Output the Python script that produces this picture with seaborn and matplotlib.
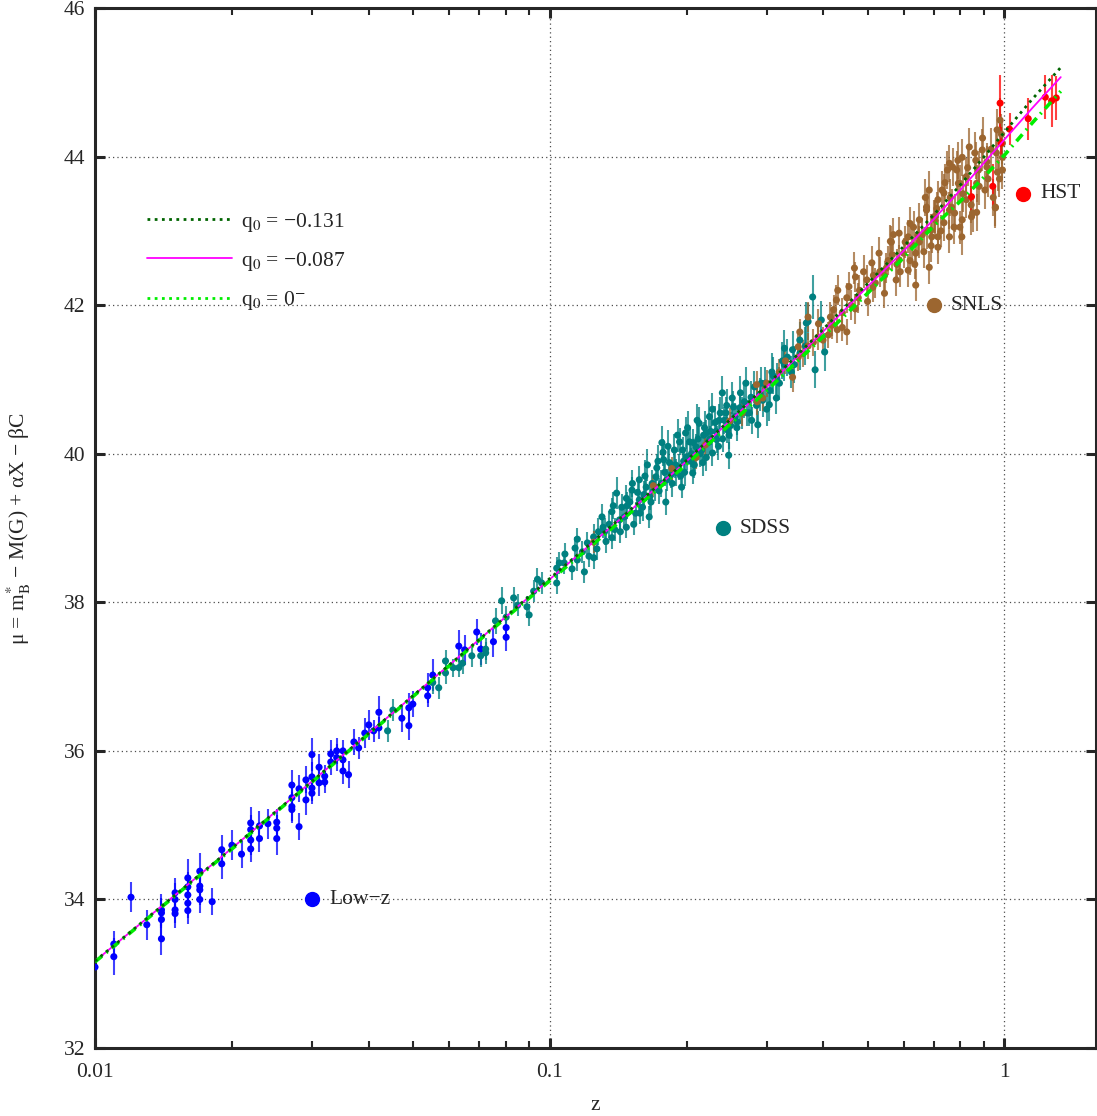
import matplotlib

matplotlib.use("Agg")
import matplotlib.pyplot as plt
from matplotlib.lines import Line2D
from matplotlib.ticker import FixedLocator, NullFormatter
import numpy as np
import pandas as pd
import seaborn as sns

sns.set_style("ticks")
plt.rcParams["font.family"] = ["Liberation Serif", "DejaVu Serif"]
plt.rcParams["mathtext.fontset"] = "stix"

FS = 15.5

# --- Low-z sample (blue)
lowz_z = [0.0100, 0.0110, 0.0110, 0.0120, 0.0130, 0.0140, 0.0140, 0.0140, 0.0140, 0.0150,
          0.0150, 0.0150, 0.0150, 0.0160, 0.0160, 0.0160, 0.0160, 0.0160, 0.0170, 0.0170,
          0.0170, 0.0170, 0.0181, 0.0190, 0.0190, 0.0200, 0.0210, 0.0220, 0.0220, 0.0220,
          0.0220, 0.0230, 0.0230, 0.0240, 0.0251, 0.0251, 0.0251, 0.0271, 0.0271, 0.0271,
          0.0271, 0.0281, 0.0281, 0.0291, 0.0291, 0.0300, 0.0300, 0.0300, 0.0300, 0.0311,
          0.0311, 0.0320, 0.0320, 0.0330, 0.0330, 0.0340, 0.0340, 0.0351, 0.0351, 0.0351,
          0.0361, 0.0371, 0.0380, 0.0392, 0.0400, 0.0410, 0.0421, 0.0421, 0.0473, 0.0490,
          0.0490, 0.0500, 0.0539, 0.0539, 0.0553, 0.0631, 0.0650, 0.0691, 0.0705, 0.0752,
          0.0802, 0.0802]
lowz_mu = [33.09, 33.40, 33.23, 34.03, 33.66, 33.86, 33.73, 33.47, 33.82, 34.09,
           34.00, 33.86, 33.81, 34.29, 34.17, 34.06, 33.95, 33.85, 34.38, 34.18,
           34.13, 34.00, 33.97, 34.67, 34.48, 34.73, 34.61, 35.03, 34.94, 34.80,
           34.68, 34.99, 34.82, 35.02, 35.04, 34.96, 34.82, 35.54, 35.37, 35.25,
           35.21, 35.49, 34.98, 35.61, 35.34, 35.95, 35.65, 35.50, 35.43, 35.78,
           35.57, 35.66, 35.58, 35.96, 35.85, 36.00, 35.91, 36.00, 35.88, 35.73,
           35.68, 36.12, 36.04, 36.24, 36.35, 36.27, 36.52, 36.31, 36.44, 36.58,
           36.34, 36.63, 36.85, 36.74, 37.02, 37.41, 37.36, 37.60, 37.37, 37.47,
           37.53, 37.66]
lowz_err = [0.08, 0.18, 0.25, 0.20, 0.20, 0.22, 0.25, 0.22, 0.20, 0.20,
            0.22, 0.18, 0.20, 0.25, 0.20, 0.22, 0.20, 0.18, 0.25, 0.22,
            0.20, 0.18, 0.18, 0.20, 0.20, 0.20, 0.18, 0.22, 0.20, 0.20,
            0.18, 0.20, 0.18, 0.20, 0.18, 0.18, 0.22, 0.20, 0.18, 0.20,
            0.18, 0.18, 0.18, 0.18, 0.20, 0.22, 0.20, 0.18, 0.15, 0.18,
            0.18, 0.15, 0.15, 0.18, 0.18, 0.18, 0.18, 0.15, 0.15, 0.18,
            0.18, 0.18, 0.15, 0.20, 0.20, 0.15, 0.22, 0.15, 0.18, 0.20,
            0.20, 0.18, 0.20, 0.15, 0.22, 0.22, 0.20, 0.18, 0.22, 0.20,
            0.18, 0.18]

# --- SDSS sample (teal)
sdss_z = [0.0440, 0.0452, 0.0553, 0.0570, 0.0590, 0.0590, 0.0613, 0.0631, 0.0643, 0.0674,
          0.0705, 0.0723, 0.0723, 0.0760, 0.0784, 0.0802, 0.0833, 0.0850, 0.0891, 0.0901,
          0.0922, 0.0940, 0.0960, 0.1036, 0.1036, 0.1050, 0.1076, 0.1080, 0.1120, 0.1137,
          0.1150, 0.1180, 0.1192, 0.1210, 0.1220, 0.1249, 0.1270, 0.1280, 0.1303, 0.1310,
          0.1330, 0.1350, 0.1370, 0.1370, 0.1390, 0.1403, 0.1424, 0.1440, 0.1460, 0.1474,
          0.1474, 0.1500, 0.1517, 0.1530, 0.1545, 0.1560, 0.1574, 0.1574, 0.1600, 0.1620,
          0.1630, 0.1655, 0.1660, 0.1680, 0.1712, 0.1720, 0.1740, 0.1765, 0.1775, 0.1780,
          0.1800, 0.1810, 0.1834, 0.1850, 0.1880, 0.1900, 0.1920, 0.1930, 0.1950, 0.1970,
          0.1990, 0.2000, 0.2030, 0.2050, 0.2063, 0.2080, 0.2100, 0.2120, 0.2132, 0.2160,
          0.2170, 0.2190, 0.2210, 0.2230, 0.2245, 0.2260, 0.2280, 0.2310, 0.2330, 0.2350,
          0.2372, 0.2397, 0.2420, 0.2450, 0.2460, 0.2475, 0.2500, 0.2536, 0.2560, 0.2587,
          0.2620, 0.2627, 0.2680, 0.2720, 0.2750, 0.2772, 0.2820, 0.2868, 0.2900, 0.2940,
          0.2980, 0.3040, 0.3050, 0.3100, 0.3151, 0.3200, 0.3283, 0.3280, 0.3331, 0.3400,
          0.3420, 0.3548, 0.3550, 0.3667, 0.3700, 0.3786, 0.3834, 0.3956, 0.4024,
          0.1150, 0.1250, 0.1320, 0.1380, 0.1430, 0.1480, 0.1520, 0.1580, 0.1610, 0.1640,
          0.1670, 0.1700, 0.1730, 0.1760, 0.1790, 0.1820, 0.1860, 0.1890, 0.1910, 0.1940,
          0.1960, 0.1980, 0.2010, 0.2040, 0.2070, 0.2090, 0.2110, 0.2140, 0.2180, 0.2210,
          0.2250, 0.2280, 0.2320, 0.2360, 0.2400, 0.2440, 0.2480, 0.2520, 0.2580, 0.2650,
          0.2700, 0.2780, 0.2850, 0.2920, 0.3000, 0.3080, 0.3160, 0.3250, 0.3450, 0.3650]
sdss_mu = [36.27, 36.55, 36.92, 36.85, 37.21, 37.05, 37.12, 37.12, 37.18, 37.28,
           37.28, 37.37, 37.32, 37.75, 38.02, 37.80, 38.06, 37.96, 37.94, 37.83,
           38.15, 38.31, 38.26, 38.46, 38.26, 38.53, 38.53, 38.65, 38.45, 38.73,
           38.57, 38.68, 38.41, 38.80, 38.62, 38.88, 38.72, 38.95, 39.15, 39.01,
           38.82, 39.05, 39.22, 38.87, 38.98, 39.47, 39.11, 39.28, 39.15, 39.40,
           39.01, 39.35, 39.51, 39.05, 39.20, 39.48, 39.65, 39.38, 39.28, 39.70,
           39.55, 39.15, 39.42, 39.60, 39.69, 39.81, 39.50, 40.15, 40.02, 39.92,
           39.35, 39.65, 39.88, 39.72, 40.05, 39.75, 39.82, 40.16, 39.55, 39.90,
           40.28, 39.96, 40.16, 40.00, 39.74, 39.85, 40.09, 40.20, 40.41, 40.05,
           39.88, 40.35, 40.28, 40.15, 40.50, 40.30, 40.01, 40.42, 40.19, 40.10,
           40.55, 40.82, 40.45, 40.65, 40.32, 39.98, 40.38, 40.63, 40.50, 40.43,
           40.62, 40.82, 40.70, 40.55, 40.55, 40.76, 40.90, 40.39, 40.80, 40.72,
           40.95, 40.66, 40.85, 41.05, 40.75, 40.95, 41.42, 41.20, 41.30, 41.10,
           41.40, 41.53, 41.35, 41.76, 41.78, 42.11, 41.13, 41.80, 41.37,
           38.85, 38.60, 38.95, 39.30, 38.95, 39.30, 39.60, 39.20, 39.45, 39.85,
           39.35, 39.55, 39.90, 39.60, 39.75, 40.10, 39.60, 39.85, 40.25, 39.70,
           40.05, 39.75, 40.35, 39.90, 40.15, 39.95, 40.45, 40.00, 40.25, 39.95,
           40.20, 40.60, 40.30, 40.45, 40.20, 40.55, 40.25, 40.75, 40.35, 40.55,
           40.95, 40.45, 40.65, 40.95, 40.60, 41.10, 41.00, 41.25, 41.20, 41.45]
sdss_err = [0.15, 0.15, 0.15, 0.15, 0.15, 0.15, 0.12, 0.12, 0.15, 0.15,
            0.15, 0.15, 0.15, 0.18, 0.18, 0.15, 0.15, 0.15, 0.15, 0.15,
            0.15, 0.15, 0.15, 0.15, 0.15, 0.15, 0.15, 0.15, 0.15, 0.15,
            0.15, 0.15, 0.15, 0.15, 0.15, 0.18, 0.15, 0.18, 0.18, 0.15,
            0.15, 0.18, 0.18, 0.15, 0.15, 0.22, 0.15, 0.18, 0.15, 0.18,
            0.15, 0.18, 0.18, 0.15, 0.15, 0.18, 0.18, 0.15, 0.18, 0.22,
            0.18, 0.15, 0.18, 0.18, 0.18, 0.18, 0.18, 0.22, 0.18, 0.22,
            0.18, 0.15, 0.18, 0.18, 0.22, 0.18, 0.18, 0.18, 0.15, 0.18,
            0.22, 0.18, 0.18, 0.18, 0.15, 0.18, 0.18, 0.18, 0.22, 0.18,
            0.18, 0.22, 0.18, 0.18, 0.22, 0.18, 0.18, 0.22, 0.18, 0.18,
            0.22, 0.22, 0.18, 0.22, 0.18, 0.18, 0.18, 0.22, 0.18, 0.18,
            0.22, 0.22, 0.22, 0.18, 0.18, 0.22, 0.22, 0.18, 0.22, 0.22,
            0.22, 0.22, 0.22, 0.25, 0.22, 0.22, 0.25, 0.22, 0.25, 0.22,
            0.25, 0.25, 0.22, 0.28, 0.25, 0.30, 0.25, 0.25, 0.25,
            0.15, 0.15, 0.18, 0.18, 0.15, 0.18, 0.18, 0.15, 0.18, 0.22,
            0.18, 0.18, 0.22, 0.18, 0.18, 0.22, 0.18, 0.18, 0.22, 0.18,
            0.18, 0.18, 0.22, 0.18, 0.18, 0.18, 0.22, 0.18, 0.18, 0.18,
            0.18, 0.22, 0.18, 0.22, 0.18, 0.22, 0.18, 0.22, 0.18, 0.22,
            0.22, 0.18, 0.22, 0.22, 0.22, 0.25, 0.22, 0.25, 0.25, 0.25]

# --- SNLS sample (brown)
snls_z = [0.1249, 0.1690, 0.1856, 0.2100, 0.2200, 0.2488, 0.2650, 0.2850, 0.2860, 0.2940,
          0.3000, 0.3200, 0.3420, 0.3520, 0.3520, 0.3548, 0.3600, 0.3700, 0.3800, 0.3892,
          0.3990, 0.4143, 0.4170, 0.4180, 0.4210, 0.4271, 0.4290, 0.4400, 0.4501, 0.4501,
          0.4600, 0.4679, 0.4703, 0.4770, 0.4800, 0.4982, 0.5110, 0.5136, 0.5200, 0.5318,
          0.5448, 0.5500, 0.5613, 0.5642, 0.5670, 0.5780, 0.5800, 0.5867, 0.5867, 0.6000,
          0.6143, 0.6143, 0.6200, 0.6265, 0.6310, 0.6380, 0.6381, 0.6450, 0.6500, 0.6600,
          0.6650, 0.6740, 0.6740, 0.6740, 0.6833, 0.6833, 0.6880, 0.6920, 0.7000, 0.7043,
          0.7043, 0.7140, 0.7140, 0.7140, 0.7290, 0.7362, 0.7362, 0.7494, 0.7570, 0.7570,
          0.7570, 0.7650, 0.7690, 0.7770, 0.7850, 0.7920, 0.7980, 0.7980, 0.8060, 0.8075,
          0.8075, 0.8245, 0.8245, 0.8370, 0.8463, 0.8510, 0.8605, 0.8687, 0.8687, 0.8770,
          0.8940, 0.9060, 0.9150, 0.9150, 0.9552, 0.9552, 0.9635, 0.9655, 0.9784, 0.9899,
          0.9899, 0.9899,
          0.3300, 0.3700, 0.3900, 0.4100, 0.4300, 0.4400, 0.4550, 0.4700, 0.4900, 0.5000,
          0.5150, 0.5300, 0.5450, 0.5550, 0.5700, 0.5900, 0.6050, 0.6200, 0.6350, 0.6500,
          0.6700, 0.6900, 0.7100, 0.7250, 0.7400, 0.7600, 0.7750, 0.7900, 0.8100, 0.8300,
          0.8450, 0.8650, 0.8800, 0.8950, 0.9200, 0.9350, 0.9450, 0.9600, 0.9750, 0.9850]
snls_mu = [38.81, 39.57, 39.80, 39.95, 40.12, 40.44, 40.55, 40.93, 40.70, 40.75,
           40.95, 41.10, 41.03, 41.44, 41.30, 41.64, 41.35, 41.84, 41.50, 41.57,
           41.53, 41.84, 41.76, 41.73, 41.94, 42.07, 41.67, 41.90, 41.64, 42.10,
           42.00, 42.50, 42.38, 42.10, 42.20, 42.34, 42.57, 42.24, 42.30, 42.45,
           42.16, 42.50, 42.86, 42.85, 42.68, 42.34, 42.55, 42.61, 42.97, 42.70,
           42.47, 42.92, 42.60, 42.81, 43.05, 42.70, 42.27, 42.94, 43.15, 42.95,
           42.72, 43.01, 43.28, 43.32, 42.51, 43.55, 43.01, 42.92, 43.19, 43.15,
           43.19, 42.78, 43.42, 42.92, 43.55, 43.11, 43.51, 43.82, 42.92, 43.91,
           43.28, 43.32, 43.86, 43.24, 43.82, 43.64, 43.05, 43.64, 42.92, 43.99,
           43.15, 43.42, 43.73, 44.13, 43.19, 43.24, 44.05, 43.25, 43.64, 43.82,
           44.09, 43.55, 43.86, 43.93, 43.32, 43.31, 44.36, 43.79, 44.49, 43.99,
           43.82, 44.18,
           41.25, 41.45, 41.75, 41.60, 42.20, 41.70, 42.25, 41.95, 42.45, 42.05,
           42.40, 42.70, 42.40, 42.60, 42.95, 42.45, 42.85, 43.10, 42.55, 42.85,
           43.45, 42.80, 43.30, 43.00, 43.65, 43.45, 43.05, 43.95, 43.50, 43.85,
           43.35, 43.95, 43.60, 44.25, 43.70, 44.10, 43.45, 44.05, 43.70, 44.30]
snls_err = [0.15, 0.15, 0.15, 0.15, 0.15, 0.18, 0.18, 0.18, 0.18, 0.18,
            0.18, 0.18, 0.20, 0.18, 0.18, 0.18, 0.18, 0.20, 0.18, 0.18,
            0.18, 0.20, 0.18, 0.18, 0.20, 0.20, 0.18, 0.20, 0.18, 0.20,
            0.20, 0.22, 0.20, 0.20, 0.20, 0.20, 0.22, 0.20, 0.20, 0.20,
            0.20, 0.20, 0.22, 0.22, 0.20, 0.22, 0.20, 0.20, 0.22, 0.20,
            0.22, 0.22, 0.20, 0.22, 0.22, 0.20, 0.22, 0.22, 0.22, 0.22,
            0.22, 0.25, 0.22, 0.22, 0.22, 0.25, 0.22, 0.22, 0.22, 0.25,
            0.22, 0.22, 0.25, 0.22, 0.25, 0.25, 0.25, 0.25, 0.22, 0.25,
            0.25, 0.25, 0.25, 0.25, 0.25, 0.25, 0.22, 0.25, 0.25, 0.25,
            0.25, 0.25, 0.25, 0.25, 0.25, 0.25, 0.28, 0.25, 0.25, 0.25,
            0.28, 0.25, 0.28, 0.25, 0.28, 0.25, 0.28, 0.25, 0.30, 0.28,
            0.25, 0.28,
            0.18, 0.18, 0.20, 0.18, 0.20, 0.18, 0.20, 0.20, 0.22, 0.20,
            0.20, 0.22, 0.20, 0.20, 0.22, 0.20, 0.22, 0.22, 0.20, 0.22,
            0.25, 0.22, 0.22, 0.22, 0.25, 0.25, 0.22, 0.25, 0.25, 0.25,
            0.25, 0.25, 0.25, 0.28, 0.25, 0.28, 0.25, 0.28, 0.25, 0.28]

# --- HST sample (red)
hst_z = [0.8463, 0.9427, 0.9784, 0.9834, 1.026, 1.128, 1.23, 1.27, 1.30]
hst_mu = [43.46, 43.60, 44.72, 44.18, 44.37, 44.51, 44.80, 44.75, 44.79]
hst_err = [0.22, 0.30, 0.38, 0.22, 0.22, 0.28, 0.30, 0.35, 0.30]

# --- model curves
curve_z = [0.01, 0.02, 0.03, 0.05, 0.07, 0.1, 0.15, 0.2, 0.3, 0.4, 0.5, 0.6, 0.7, 0.8, 0.9, 1.0, 1.15, 1.33]
mu_q131 = [33.17, 34.69, 35.59, 36.74, 37.50, 38.32, 39.24, 39.91, 40.92, 41.68, 42.29, 42.79, 43.22,
           43.62, 43.99, 44.33, 44.77, 45.20]
mu_q087 = [33.17, 34.69, 35.59, 36.74, 37.50, 38.31, 39.23, 39.90, 40.90, 41.65, 42.25, 42.73, 43.16,
           43.55, 43.91, 44.23, 44.65, 45.07]
mu_q0 = [33.16, 34.68, 35.58, 36.73, 37.49, 38.29, 39.20, 39.86, 40.85, 41.58, 42.16, 42.64, 43.07,
         43.40, 43.72, 44.02, 44.45, 44.88]

surveys = ["Low\u2212z", "SDSS", "SNLS", "HST"]
colors = ["#0000ff", "#008080", "#9c6630", "#ff0000"]
key_pos = [(0.03, 34.0), (0.24, 39.0), (0.70, 42.0), (1.10, 43.5)]

frames = []
for name, zs, ms, es in [(surveys[0], lowz_z, lowz_mu, lowz_err),
                         (surveys[1], sdss_z, sdss_mu, sdss_err),
                         (surveys[2], snls_z, snls_mu, snls_err),
                         (surveys[3], hst_z, hst_mu, hst_err)]:
    frames.append(pd.DataFrame({"z": zs, "mu": ms, "err": es, "survey": name}))
df = pd.concat(frames, ignore_index=True)

fig = plt.figure(figsize=(10.97, 11.16), dpi=100)
ax = fig.add_axes([0.0866, 0.0609, 0.9125, 0.9319])
ax.set_xscale("log")

for name, c in zip(surveys, colors):
    d = df[df["survey"] == name]
    ax.errorbar(d["z"], d["mu"], yerr=d["err"], fmt="none", ecolor=c, elinewidth=1.5,
                alpha=0.75, capsize=0, zorder=2)
sns.scatterplot(data=df, x="z", y="mu", hue="survey", palette=dict(zip(surveys, colors)),
                s=26, linewidth=0, legend=False, ax=ax, zorder=3)

# curves
ax.plot(curve_z, mu_q087, color="#ff00ff", lw=1.3, zorder=4)
ax.plot(curve_z, mu_q0, color="#00ee00", lw=2.6, linestyle=(0, (2.5, 1.5, 0.5, 1.5)), zorder=5)
ax.plot(curve_z, mu_q131, color="#006400", lw=2.0, linestyle=(0, (1, 1.6)), zorder=6)

# survey keys
for name, c, (kz, km) in zip(surveys, colors, key_pos):
    ax.plot(kz, km, "o", ms=10, color=c, zorder=7)
    ax.text(kz * 1.09, km, name, fontsize=FS, va="center", ha="left", zorder=7)

handles = [
    Line2D([], [], color="#006400", lw=2.0, linestyle=(0, (1, 1.6))),
    Line2D([], [], color="#ff00ff", lw=1.3),
    Line2D([], [], color="#00ee00", lw=2.0, linestyle=(0, (1, 1.6))),
]
labels = ["q$_0$ = \u22120.131", "q$_0$ = \u22120.087", "q$_0$ = 0$^{-}$"]
ax.legend(handles, labels, loc="upper left", bbox_to_anchor=(0.052, 0.805), frameon=False,
          fontsize=FS, handlelength=3.95, handletextpad=0.4, labelspacing=0.75,
          borderpad=0, borderaxespad=0)

ax.set_xlim(0.01, 1.59)
ax.set_ylim(32, 46)
ax.set_xticks([0.01, 0.1, 1])
ax.set_xticklabels(["0.01", "0.1", "1"])
ax.xaxis.set_minor_locator(FixedLocator([0.02, 0.03, 0.04, 0.05, 0.06, 0.07, 0.08, 0.09,
                                         0.2, 0.3, 0.4, 0.5, 0.6, 0.7, 0.8, 0.9]))
ax.xaxis.set_minor_formatter(NullFormatter())
ax.set_yticks(np.arange(32, 47, 2))
ax.grid(True, which="major", color="0.3", linestyle=(0, (1, 2.5)), lw=0.9)

for sp in ax.spines.values():
    sp.set_linewidth(2.2)
    sp.set_visible(True)
ax.tick_params(which="major", direction="in", length=7, width=2.2, labelsize=FS,
               top=True, right=True, pad=11)
ax.tick_params(which="minor", direction="in", length=5, width=1.5, top=True)
ax.tick_params(axis="y", which="major", pad=7)

ax.set_xlabel("z", fontsize=FS)
ax.xaxis.set_label_coords(0.5, -0.046)
ax.set_ylabel("\u03bc = m$^{*}_{\\mathrm{B}}$ \u2212 M(G) + \u03b1X \u2212 \u03b2C", fontsize=FS)
ax.yaxis.set_label_coords(-0.062, 0.5)

fig.savefig("out.png", dpi=100)
